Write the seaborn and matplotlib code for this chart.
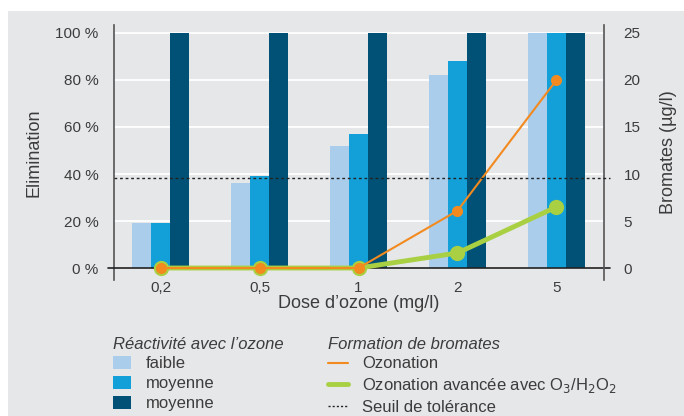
import numpy as np
import pandas as pd
import matplotlib
matplotlib.use("Agg")
import matplotlib.pyplot as plt
from matplotlib.patches import Rectangle, Patch
from matplotlib.lines import Line2D
import seaborn as sns

# data
doses = ["0,2", "0,5", "1", "2", "5"]
reactivite = ["faible", "moyenne", "élevée"]
legend_labels = ["faible", "moyenne", "moyenne"]
elim_faible = [19, 36, 52, 82, 100]
elim_moyenne = [19, 39, 57, 88, 100]
elim_elevee = [100, 100, 100, 100, 100]
bromates_ozonation = [0, 0, 0, 6.1, 20.0]
bromates_avancee = [0, 0, 0, 1.6, 6.5]
seuil = 9.6

bar_colors = ["#abcdec", "#13a0d9", "#005175"]
orange = "#f28a1f"
green = "#a8d042"
bg = "#e6e7e9"
txt = "#3c3c3c"

sns.set_theme(style="white")
plt.rcParams["font.family"] = ["Liberation Sans", "DejaVu Sans"]
plt.rcParams["text.color"] = txt
plt.rcParams["axes.labelcolor"] = txt
plt.rcParams["xtick.color"] = txt
plt.rcParams["ytick.color"] = txt

df = pd.DataFrame({
    "dose": doses * 3,
    "reac": np.repeat(reactivite, len(doses)),
    "elim": elim_faible + elim_moyenne + elim_elevee,
})
lines = pd.DataFrame({
    "dose": doses * 2,
    "proc": ["oz"] * len(doses) + ["av"] * len(doses),
    "bro": bromates_ozonation + bromates_avancee,
})

fig = plt.figure(figsize=(6.84, 4.16), dpi=100, facecolor="white")
fig.add_artist(Rectangle((8 / 684, 0), 1, 405 / 416, transform=fig.transFigure,
                         facecolor=bg, edgecolor="none", zorder=-10))
ax = fig.add_axes([114 / 684, 1 - 280 / 416, 490 / 684, 255 / 416])
ax.set_facecolor("none")

sns.barplot(data=df, x="dose", y="elim", hue="reac", hue_order=reactivite,
            palette=bar_colors, width=0.58, gap=0, saturation=1, legend=False,
            ax=ax, zorder=2, linewidth=0)
ax.set_axisbelow(True)
for v in [20, 40, 60, 80, 100]:
    ax.axhline(v, color="white", lw=1.3, zorder=0.5)
ax.axhline(0, xmin=-0.012, xmax=1.012, color="#222222", lw=1.2, zorder=3, clip_on=False)

ax.set_ylim(-5.1, 103.4)
ax.set_yticks([0, 20, 40, 60, 80, 100])
ax.set_yticklabels(["0 %", "20 %", "40 %", "60 %", "80 %", "100 %"])
ax.tick_params(axis="both", length=0, labelsize=11)
ax.tick_params(axis="y", pad=11)
ax.tick_params(axis="x", pad=1)
ax.set_xlabel("Dose d’ozone (mg/l)", fontsize=13, labelpad=0)
ax.set_ylabel("Elimination", fontsize=13, labelpad=9)
for s in ["top", "bottom", "right"]:
    ax.spines[s].set_visible(False)
ax.spines["left"].set_color("#555555")
ax.spines["left"].set_linewidth(1.2)

ax2 = ax.twinx()
sns.lineplot(data=lines[lines.proc == "av"], x="dose", y="bro", color=green,
             lw=3.5, marker="o", markersize=11, markeredgewidth=0, ax=ax2, zorder=4)
sns.lineplot(data=lines[lines.proc == "oz"], x="dose", y="bro", color=orange,
             lw=1.5, marker="o", markersize=8, markeredgewidth=0, ax=ax2, zorder=5)
ax2.axhline(seuil, xmin=0, xmax=1.012, color="#222222", lw=1, ls=(0, (2, 2)),
            zorder=6, clip_on=False)
ax2.set_ylim(-5.1 / 4, 103.4 / 4)
ax2.set_yticks([0, 5, 10, 15, 20, 25])
ax2.set_xlim(-0.47, 4.48)
ax.set_xlim(-0.47, 4.48)
ax2.tick_params(axis="y", length=0, labelsize=11, pad=14)
ax2.set_ylabel("Bromates (µg/l)", fontsize=13, labelpad=14)
ax2.set_xlabel("")
for s in ["top", "bottom", "left"]:
    ax2.spines[s].set_visible(False)
ax2.spines["right"].set_color("#555555")
ax2.spines["right"].set_linewidth(1.2)

# legends
h1 = [Patch(facecolor=c, edgecolor="none") for c in bar_colors]
leg1 = fig.legend(h1, legend_labels, loc="upper left", bbox_to_anchor=(106 / 684, 1 - 330 / 416),
                  frameon=False, fontsize=12, title="Réactivité avec l’ozone",
                  title_fontproperties={"style": "italic", "size": 12},
                  alignment="left", handlelength=1.1, handleheight=0.8,
                  handletextpad=0.9, labelspacing=0.28, borderaxespad=0)
h2 = [Line2D([], [], color=orange, lw=1.5),
      Line2D([], [], color=green, lw=3.5),
      Line2D([], [], color="#222222", lw=1, ls=(0, (1.5, 1.5)))]
l2 = ["Ozonation", "Ozonation avancée avec O$_3$/H$_2$O$_2$", "Seuil de tolérance"]
leg2 = fig.legend(h2, l2, loc="upper left", bbox_to_anchor=(321 / 684, 1 - 330 / 416),
                  frameon=False, fontsize=12, title="Formation de bromates",
                  title_fontproperties={"style": "italic", "size": 12},
                  alignment="left", handlelength=1.2, handletextpad=0.85,
                  labelspacing=0.28, borderaxespad=0)
for lg in (leg1, leg2):
    for t in lg.get_texts():
        t.set_color(txt)
    lg.get_title().set_color(txt)

fig.savefig("out.png", dpi=100, facecolor="white")
